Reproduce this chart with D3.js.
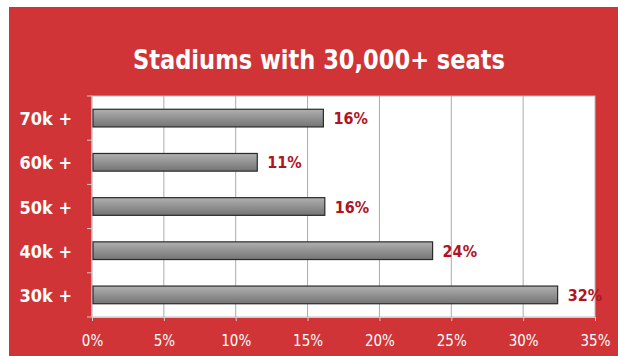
<!DOCTYPE html>
<html>
<head>
<meta charset="utf-8">
<script src="https://cdn.jsdelivr.net/npm/d3@7"></script>
<style>
  body { margin: 0; background: #fff; }
  svg { display: block; }
</style>
</head>
<body>
<svg id="chart" width="618" height="356"></svg>
<script>
const categories = ['70k +', '60k +', '50k +', '40k +', '30k +']
const values = [16.1, 11.5, 16.2, 23.7, 32.4]
const valueLabels = ['16%', '11%', '16%', '24%', '32%']
const tickValues = [0, 5, 10, 15, 20, 25, 30, 35]

const svg = d3.select('#chart')
const red = '#d03436'

// red panel
svg.append('rect').attr('x', 9).attr('y', 7).attr('width', 609).attr('height', 349).attr('fill', red)

svg.append('text')
  .attr('x', 319).attr('y', 69)
  .attr('text-anchor', 'middle')
  .style('font', 'bold 26px "DejaVu Sans Condensed", sans-serif')
  .attr('fill', '#fff')
  .attr('textLength', 372)
  .attr('lengthAdjust', 'spacingAndGlyphs')
  .text('Stadiums with 30,000+ seats')

const margin = {left: 92, top: 96, right: 595, bottom: 317}

const x = d3.scaleLinear().domain([0, 35]).range([margin.left, margin.right])
const y = d3.scaleBand().domain(categories).range([margin.top, margin.bottom]).paddingInner(0.6).paddingOuter(0.3)

// plot bg
svg.append('rect')
  .attr('x', margin.left).attr('y', margin.top)
  .attr('width', margin.right - margin.left).attr('height', margin.bottom - margin.top)
  .attr('fill', '#fff').attr('stroke', '#bbb')

// gridlines
svg.append('g').selectAll('line')
  .data(tickValues.slice(1, -1))
  .enter().append('line')
  .attr('x1', d => x(d)).attr('x2', d => x(d))
  .attr('y1', margin.top).attr('y2', margin.bottom)
  .attr('stroke', '#aaa').attr('stroke-width', 1)

// x axis
const xAxis = svg.append('g')
  .attr('transform', 'translate(0,' + margin.bottom + ')')
  .call(d3.axisBottom(x).tickValues(tickValues).tickFormat(d => d + '%').tickSize(4).tickPadding(14))
xAxis.select('.domain').attr('stroke', '#ccc')
xAxis.selectAll('line').attr('stroke', '#ccc')
xAxis.selectAll('text')
  .attr('fill', '#fff')
  .style('font', '15px "DejaVu Sans Condensed", sans-serif')

// y axis ticks between bands
const yTicks = d3.range(categories.length + 1).map(i => margin.top + (margin.bottom - margin.top) * i / categories.length)
svg.append('g').selectAll('line')
  .data(yTicks)
  .enter().append('line')
  .attr('x1', margin.left - 5).attr('x2', margin.left)
  .attr('y1', d => d).attr('y2', d => d)
  .attr('stroke', '#ccc')

svg.append('line')
  .attr('x1', margin.left).attr('x2', margin.left)
  .attr('y1', margin.top).attr('y2', margin.bottom)
  .attr('stroke', '#ccc')

svg.append('g').selectAll('text')
  .data(categories)
  .enter().append('text')
  .attr('x', 72)
  .attr('y', d => y(d) + y.bandwidth() / 2 + 7)
  .attr('text-anchor', 'end')
  .style('font', 'bold 18px "DejaVu Sans Condensed", sans-serif')
  .attr('fill', '#fff')
  .text(d => d)

// bar gradient
const grad = svg.append('defs').append('linearGradient')
  .attr('id', 'barGrad').attr('x1', 0).attr('x2', 0).attr('y1', 0).attr('y2', 1)
grad.append('stop').attr('offset', '0%').attr('stop-color', '#b0b0b0')
grad.append('stop').attr('offset', '100%').attr('stop-color', '#747474')

svg.append('g').selectAll('rect')
  .data(values)
  .enter().append('rect')
  .attr('x', x(0) + 1)
  .attr('y', (d, i) => y(categories[i]))
  .attr('width', d => x(d) - x(0) - 1)
  .attr('height', y.bandwidth())
  .attr('fill', 'url(#barGrad)')
  .attr('stroke', '#2a2a2a')
  .attr('stroke-width', 1.2)

svg.append('g').selectAll('text')
  .data(values)
  .enter().append('text')
  .attr('x', d => x(d) + 10)
  .attr('y', (d, i) => y(categories[i]) + y.bandwidth() / 2 + 6)
  .style('font', 'bold 16px "DejaVu Sans Condensed", sans-serif')
  .attr('fill', '#b0141e')
  .text((d, i) => valueLabels[i])
</script>
</body>
</html>
